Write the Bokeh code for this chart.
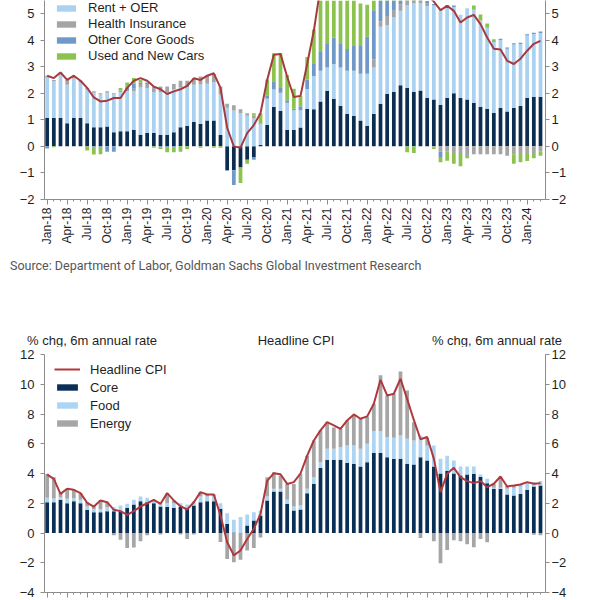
import math
import numpy as np
from bokeh.plotting import figure
from bokeh.models import (ColumnDataSource, LinearAxis, FixedTicker, Legend,
                          LegendItem, Div, Range1d)
from bokeh.layouts import column
from bokeh.embed import file_html
from bokeh.resources import INLINE

# ---------------- data: top chart (Core CPI contributions) ----------------
tick_labels = ["Jan-18", "Apr-18", "Jul-18", "Oct-18", "Jan-19", "Apr-19", "Jul-19",
               "Oct-19", "Jan-20", "Apr-20", "Jul-20", "Oct-20", "Jan-21", "Apr-21",
               "Jul-21", "Oct-21", "Jan-22", "Apr-22", "Jul-22", "Oct-22", "Jan-23",
               "Apr-23", "Jul-23", "Oct-23", "Jan-24"]

core_services = [1.07, 1.07, 1.07, 0.87, 1.07, 1.07, 0.87, 0.72, 0.72, 0.75,
                 0.53, 0.57, 0.57, 0.62, 0.44, 0.50, 0.50, 0.43, 0.43, 0.53,
                 0.72, 0.77, 0.93, 0.84, 0.97, 0.97, 0.43, -0.90, -0.90, -0.80,
                 -0.50, -0.40, 0.05, 0.80, 1.48, 1.33, 0.62, 0.62, 0.71, 1.41,
                 1.40, 1.69, 2.09, 1.79, 1.53, 1.22, 1.15, 0.97, 0.78, 1.22,
                 1.60, 1.97, 2.05, 2.30, 2.20, 2.05, 2.10, 1.82, 1.76, 1.57,
                 1.82, 2.00, 1.82, 1.76, 1.64, 1.49, 1.41, 1.26, 1.44, 1.31,
                 1.44, 1.52, 1.82, 1.86, 1.86]
rent_oer = [1.52, 1.38, 1.64, 1.45, 1.48, 1.34, 1.28, 1.30, 1.23, 1.27,
            1.42, 1.48, 1.50, 1.45, 1.78, 1.70, 1.55, 1.62, 1.62, 1.62,
            1.50, 1.45, 1.39, 1.49, 1.39, 1.45, 1.52, 1.45, 1.35, 1.25,
            1.15, 1.05, 0.78, 0.98, 0.65, 0.67, 1.00, 0.75, 0.65, 0.75,
            1.25, 1.16, 0.88, 1.31, 1.44, 1.63, 1.70, 1.76, 1.95, 1.75,
            2.90, 2.59, 2.80, 2.80, 3.10, 3.35, 3.30, 3.45, 3.55, 3.60,
            3.45, 3.25, 3.13, 3.44, 3.50, 3.25, 3.05, 2.67, 2.56, 2.36,
            2.39, 2.33, 2.35, 2.37, 2.41]
health_ins = [0.07, 0.05, 0.07, 0.18, 0.08, 0.06, 0.05, 0.05, 0.05, 0.05,
              0.05, 0.05, 0.05, 0.10, 0.13, 0.15, 0.20, 0.20, 0.20, 0.20,
              0.25, 0.25, 0.25, 0.30, 0.30, 0.30, 0.30, 0.15, 0.20, 0.15,
              0.10, 0.10, 0.02, 0.02, 0.02, 0.02, 0.02, 0.00, 0.00, 0.00,
              0.00, 0.00, 0.00, 0.00, 0.00, 0.00, 0.00, 0.00, 0.00, 0.30,
              0.20, 0.35, 0.25, 0.25, 0.20, 0.15, 0.10, 0.10, -0.05, -0.20,
              -0.20, -0.25, -0.25, -0.30, -0.30, -0.30, -0.30, -0.30, -0.30, -0.35,
              -0.30, -0.25, -0.25, -0.25, -0.20]
other_goods = [-0.08, 0.00, 0.00, 0.00, 0.00, 0.00, 0.00, -0.05, -0.05, -0.20,
               -0.20, 0.00, 0.13, 0.20, 0.05, 0.05, 0.00, -0.05, -0.05, -0.05,
               0.00, 0.00, 0.00, 0.00, 0.00, 0.00, 0.00, -0.02, -0.55, 0.00,
               0.00, -0.10, 0.00, 0.12, 0.30, 0.18, 0.10, 0.05, 0.15, 0.35,
               0.45, 0.70, 0.88, 1.00, 0.88, 0.81, 0.93, 1.05, 1.40, 1.85,
               0.90, 0.80, 0.70, 0.50, 0.40, 0.20, 0.15, 0.10, 0.05, -0.20,
               0.05, 0.05, 0.00, -0.05, 0.00, 0.00, 0.00, 0.00, 0.05, 0.05,
               0.05, 0.05, 0.05, 0.05, 0.05]
cars = [0.00, -0.03, 0.00, 0.00, 0.00, 0.00, -0.16, -0.26, -0.25, 0.00,
        0.00, 0.10, 0.15, 0.20, 0.10, 0.00, -0.05, -0.05, -0.17, -0.17,
        -0.20, -0.10, 0.00, -0.05, 0.00, -0.05, -0.05, 0.00, 0.00, -0.58,
        -0.15, 0.10, 0.40, 0.60, 1.05, 1.30, 0.95, 0.75, 0.39, 0.85,
        1.30, 2.50, 2.80, 2.50, 2.20, 2.00, 1.80, 1.60, 1.20, 0.60,
        0.00, 0.00, 0.00, 0.00, -0.22, -0.25, 0.00, 0.00, -0.05, -0.20,
        -0.34, -0.40, -0.50, -0.10, 0.16, 0.22, 0.16, 0.10, 0.00, 0.00,
        -0.35, -0.35, -0.30, -0.20, -0.15]
core_cpi = [2.66, 2.57, 2.78, 2.50, 2.66, 2.47, 2.20, 1.84, 1.69, 1.72,
            1.82, 1.82, 2.20, 2.47, 2.57, 2.47, 2.25, 2.15, 1.97, 2.07,
            2.15, 2.28, 2.56, 2.50, 2.66, 2.75, 2.20, 0.70, 0.00, -0.05,
            0.50, 0.80, 1.25, 2.50, 3.45, 3.48, 2.62, 1.86, 1.90, 3.10,
            4.35, 6.00, 7.50, 8.00, 7.60, 6.80, 6.30, 6.00, 6.20, 6.60,
            6.60, 6.10, 6.00, 6.30, 6.50, 6.10, 5.90, 5.70, 5.45, 5.13,
            5.29, 5.10, 4.66, 4.85, 4.95, 4.60, 4.10, 3.67, 3.65, 3.22,
            3.10, 3.30, 3.60, 3.86, 3.97]

# ---------------- data: bottom chart (Headline CPI) ----------------
core_b = [2.07, 2.07, 2.23, 2.00, 2.14, 2.00, 1.56, 1.40, 1.40, 1.47,
          1.47, 1.47, 1.70, 1.92, 2.14, 2.07, 2.00, 1.78, 1.74, 1.70,
          1.74, 1.63, 1.85, 2.07, 2.14, 2.14, 1.63, 0.60, 0.03, 0.02,
          0.50, 0.84, 1.18, 2.19, 2.79, 2.79, 1.96, 1.51, 1.58, 2.68,
          3.30, 4.38, 4.92, 4.92, 4.92, 4.70, 4.65, 4.47, 4.76, 5.37,
          5.37, 5.10, 4.99, 4.99, 4.65, 4.60, 5.10, 4.88, 4.47, 4.00,
          4.16, 4.00, 3.87, 3.94, 3.98, 3.76, 3.35, 2.97, 2.97, 2.59,
          2.52, 2.63, 2.90, 3.13, 3.19]
food_b = [0.30, 0.25, 0.18, 0.30, 0.20, 0.23, 0.22, 0.22, 0.22, 0.27,
          0.27, 0.38, 0.26, 0.31, 0.31, 0.30, 0.23, 0.29, 0.26, 0.30,
          0.26, 0.29, 0.29, 0.38, 0.31, 0.31, 0.37, 0.73, 0.86, 1.05,
          0.74, 0.56, 0.33, 0.26, 0.18, 0.18, 0.27, 0.27, 0.27, 0.29,
          0.46, 0.38, 0.74, 0.74, 0.85, 1.19, 1.24, 1.19, 1.24, 1.48,
          1.48, 1.35, 1.41, 1.57, 1.68, 1.62, 1.46, 1.00, 1.42, 1.00,
          1.04, 0.88, 0.60, 0.53, 0.49, 0.18, 0.29, 0.07, 0.07, 0.38,
          0.52, 0.56, 0.45, 0.29, 0.30]
energy_b = [1.61, 1.43, 0.33, 0.67, 0.56, 0.45, 0.29, 0.23, 0.57, 0.33,
            -0.15, -0.46, -1.00, -0.98, -0.55, -0.15, 0.00, -0.10, 0.68, 0.19,
            -0.10, -0.40, -0.10, 0.30, 0.14, 0.14, -0.60, -1.74, -1.96, -1.79,
            -1.18, -1.00, -0.30, 1.30, 1.12, 0.90, 1.07, 1.52, 2.13, 2.23,
            2.46, 2.14, 1.79, 1.44, 1.23, 1.68, 2.01, 2.02, 1.84, 1.84,
            3.75, 2.80, 2.96, 4.30, 3.25, 1.23, -0.33, 0.50, -0.55, -2.03,
            -1.15, -0.48, -0.55, -0.75, -0.95, -0.40, -0.62, 0.25, 0.70, 0.20,
            0.15, 0.05, 0.07, -0.12, -0.15]
headline_b = [3.93, 3.64, 2.63, 2.97, 2.90, 2.68, 2.03, 1.78, 2.19, 2.07,
              1.56, 1.47, 1.22, 1.47, 1.78, 2.00, 2.23, 1.96, 2.68, 2.19,
              1.80, 1.58, 2.07, 2.75, 2.59, 2.59, 1.18, -0.62, -1.50, -1.18,
              -0.40, 0.28, 1.29, 3.50, 4.02, 3.95, 3.30, 3.42, 4.00, 5.20,
              6.22, 6.90, 7.45, 7.23, 7.00, 7.57, 7.97, 7.68, 7.84, 8.69,
              10.30, 9.25, 9.36, 10.37, 9.00, 7.60, 6.30, 6.45, 5.00, 2.75,
              3.98, 4.38, 3.76, 3.49, 3.35, 3.49, 3.08, 3.31, 3.80, 3.13,
              3.19, 3.26, 3.42, 3.31, 3.35]

N = len(core_cpi)
idx = np.arange(N)
tick_pos = list(range(0, N, 3))[:len(tick_labels)]

FONT = "Liberation Sans"
AXIS_COL = "#8c8c8c"
TEXT_COL = "#1f1f1f"
W = 596


def stack(components):
    pos = np.zeros(N)
    neg = np.zeros(N)
    out = []
    for vals in components:
        v = np.asarray(vals, dtype=float)
        pp = np.clip(v, 0, None)
        qq = np.clip(v, None, 0)
        bottom = np.concatenate([pos, neg + qq])
        top = np.concatenate([pos + pp, neg])
        out.append(ColumnDataSource(dict(x=np.concatenate([idx, idx]),
                                         bottom=bottom, top=top)))
        pos = pos + pp
        neg = neg + qq
    return out


def style_y(ax, standoff):
    ax.axis_line_color = AXIS_COL
    ax.major_tick_line_color = AXIS_COL
    ax.minor_tick_line_color = None
    ax.major_tick_in = 0
    ax.major_tick_out = 4
    ax.major_label_standoff = standoff
    ax.major_label_text_font = FONT
    ax.major_label_text_font_size = "13px"
    ax.major_label_text_color = TEXT_COL


def style_x(ax, labels=True):
    ax.ticker = FixedTicker(ticks=tick_pos, minor_ticks=list(range(N)))
    ax.axis_line_color = AXIS_COL
    ax.major_tick_line_color = AXIS_COL
    ax.minor_tick_line_color = AXIS_COL
    ax.major_tick_in = 0
    ax.major_tick_out = 5
    ax.minor_tick_in = 0
    ax.minor_tick_out = 2
    ax.major_label_text_font = FONT
    ax.major_label_text_color = TEXT_COL
    if labels:
        ax.major_label_overrides = {int(p): l for p, l in zip(tick_pos, tick_labels)}
        ax.major_label_orientation = math.pi / 2
        ax.major_label_text_font_size = "12px"
        ax.major_label_standoff = 3
    else:
        ax.major_label_overrides = {int(p): "" for p in tick_pos}
        ax.major_label_text_font_size = "0px"
        ax.major_label_standoff = 0


def base_fig(height, y0, y1, top_border, bottom_border):
    p = figure(width=W, height=height, x_range=Range1d(-0.4, 74.75),
               y_range=Range1d(y0, y1), output_backend="svg",
               toolbar_location=None, min_border_left=44, min_border_right=W - 545,
               min_border_top=top_border, min_border_bottom=bottom_border)
    p.xgrid.visible = False
    p.ygrid.visible = False
    p.outline_line_color = None
    p.background_fill_color = "white"
    p.border_fill_color = "white"
    return p


# ---------------- top figure ----------------
p1 = base_fig(250, -2, 5.49, 0, 51)
top_cols = ["#0b2d52", "#abd1f0", "#a5a5a5", "#7098c8", "#8cc34f"]
top_names = [None, "Rent + OER", "Health Insurance", "Other Core Goods", "Used and New Cars"]
srcs = stack([core_services, rent_oer, health_ins, other_goods, cars])
items = []
for src, col, name in zip(srcs, top_cols, top_names):
    r = p1.vbar(x="x", width=0.56, bottom="bottom", top="top", source=src,
                fill_color=col, line_color=None)
    if name:
        items.append(LegendItem(label=name, renderers=[r]))
p1.line(idx, core_cpi, line_color="#a63a3e", line_width=2)

p1.yaxis.ticker = FixedTicker(ticks=list(range(-2, 6)))
style_y(p1.yaxis[0], 6)
ra = LinearAxis(ticker=FixedTicker(ticks=list(range(-2, 6))))
style_y(ra, 2)
p1.add_layout(ra, "right")
style_x(p1.xaxis[0], True)

leg1 = Legend(items=items, location=(10, 136), orientation="vertical",
              glyph_width=24, glyph_height=8, label_height=14, spacing=1,
              padding=0, margin=0, label_standoff=10,
              label_text_font=FONT, label_text_font_size="13px",
              label_text_color=TEXT_COL, border_line_color=None,
              background_fill_alpha=0)
p1.add_layout(leg1)

# ---------------- text block between charts ----------------
html = (
    '<div style="position:relative;width:596px;height:96px;">'
    '<div style="position:absolute;left:10px;top:7px;white-space:nowrap;'
    'font-family:Roboto;font-size:12.5px;color:#555555;">'
    'Source: Department of Labor, Goldman Sachs Global Investment Research</div>'
    '<div style="position:absolute;left:27px;top:82px;white-space:nowrap;'
    'font-family:\'Liberation Sans\';font-size:13px;color:#1f1f1f;">% chg, 6m annual rate</div>'
    '<div style="position:absolute;left:0px;width:592px;text-align:center;top:82px;'
    'white-space:nowrap;font-family:\'Liberation Sans\';font-size:13px;color:#1f1f1f;">Headline CPI</div>'
    '<div style="position:absolute;right:34px;top:82px;white-space:nowrap;'
    'font-family:\'Liberation Sans\';font-size:13px;color:#1f1f1f;">% chg, 6m annual rate</div>'
    '</div>'
)
div = Div(text=html, width=W, height=96, margin=(0, 0, 0, 0))

# ---------------- bottom figure ----------------
p2 = base_fig(254, -4, 12, 8, 8)
bot_cols = ["#0a2f57", "#add4f2", "#a6a6a6"]
bot_names = ["Core", "Food", "Energy"]
srcs2 = stack([core_b, food_b, energy_b])
rends2 = []
for src, col in zip(srcs2, bot_cols):
    rends2.append(p2.vbar(x="x", width=0.56, bottom="bottom", top="top", source=src,
                          fill_color=col, line_color=None))
lr = p2.line(idx, headline_b, line_color="#b0383d", line_width=2)

p2.yaxis.ticker = FixedTicker(ticks=list(range(-4, 13, 2)))
style_y(p2.yaxis[0], 6)
ra2 = LinearAxis(ticker=FixedTicker(ticks=list(range(-4, 13, 2))))
style_y(ra2, 2)
p2.add_layout(ra2, "right")
style_x(p2.xaxis[0], False)

items2 = [LegendItem(label="Headline CPI", renderers=[lr])]
items2 += [LegendItem(label=n, renderers=[r]) for n, r in zip(bot_names, rends2)]
leg2 = Legend(items=items2, location=(10, 161), orientation="vertical",
              glyph_width=26, glyph_height=8, label_height=16, spacing=2,
              padding=0, margin=0, label_standoff=10,
              label_text_font=FONT, label_text_font_size="13px",
              label_text_color=TEXT_COL, border_line_color=None,
              background_fill_alpha=0)
p2.add_layout(leg2)

layout = column(p1, div, p2, spacing=0)
open("out.html", "w").write(file_html(layout, INLINE))
